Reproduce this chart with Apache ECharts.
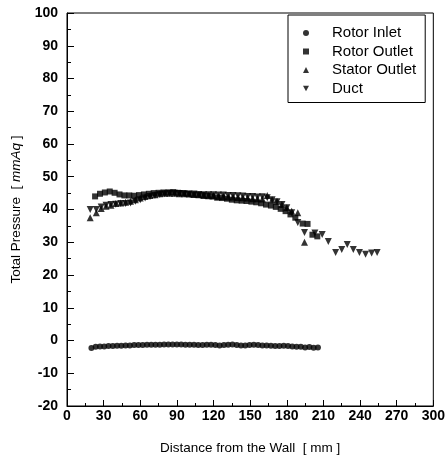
<!DOCTYPE html>
<html><head><meta charset="utf-8">
<script src="https://cdn.jsdelivr.net/npm/echarts@6/dist/echarts.min.js"></script>
<style>html,body{margin:0;padding:0;background:#fff}#c{width:448px;height:464px}</style>
</head><body><div id="c"></div>
<script>
const seriesNames = ['Rotor Inlet', 'Rotor Outlet', 'Stator Outlet', 'Duct'];
const xTicks = [0, 30, 60, 90, 120, 150, 180, 210, 240, 270, 300];
const yTicks = [-20, -10, 0, 10, 20, 30, 40, 50, 60, 70, 80, 90, 100];

const rotorInletX = [20,23.5,27,30.5,34,37.5,41,44.5,48,51.5,55,58.5,62,65.5,69,72.5,76,79.5,83,86.5,90,93.5,97,100.5,104,107.5,111,114.5,118,121.5,125,128.5,132,135.5,139,142.5,146,149.5,153,156.5,160,163.5,167,170.5,174,177.5,181,184.5,188,191.5,195,198.5,202,205.5];
const rotorInletY = [-2.3,-1.9,-1.8,-1.8,-1.7,-1.7,-1.6,-1.6,-1.5,-1.5,-1.4,-1.4,-1.4,-1.3,-1.3,-1.3,-1.3,-1.2,-1.2,-1.2,-1.2,-1.2,-1.3,-1.3,-1.3,-1.4,-1.4,-1.3,-1.3,-1.4,-1.5,-1.4,-1.3,-1.2,-1.4,-1.5,-1.5,-1.4,-1.3,-1.4,-1.5,-1.5,-1.6,-1.7,-1.7,-1.6,-1.7,-1.8,-1.9,-1.9,-2.1,-2.0,-2.2,-2.1];

const rotorOutletX = [23,27,31,35,39,43,47,51,55,59,63,67,71,75,79,83,87,91,95,99,103,107,111,115,119,123,127,131,135,139,143,147,151,155,159,163,167,171,175,179,183,187,193,197,201,205];
const rotorOutletY = [44.0,44.8,45.2,45.5,45.1,44.6,44.3,44.3,44.2,44.4,44.6,44.8,45.0,45.1,45.2,45.2,45.3,45.1,45.0,44.8,44.6,44.5,44.4,44.2,44.0,43.6,43.5,43.3,43.0,42.8,42.7,42.6,42.4,42.2,41.9,41.5,41.2,40.8,40.2,39.5,38.5,37.5,35.7,35.6,32.3,31.8];

const statorOutletX = [19,24,28,32,36,40,44,48,52,56,60,64,68,72,76,80,84,88,92,96,100,104,108,112,116,120,124,128,132,136,140,144,148,152,156,160,164,168,172,176,180,184,189,194.5];
const statorOutletY = [37.5,39.0,40.3,41.0,41.3,41.8,42.0,42.2,42.5,43.0,43.5,44.0,44.3,44.5,44.8,45.0,45.0,45.0,44.8,44.8,44.7,44.6,44.5,44.3,44.2,44.2,44.0,44.0,43.8,43.8,43.7,43.6,43.5,43.3,43.3,43.2,44.3,43.0,42.5,41.5,40.5,39.5,39.0,30.0];

const ductX = [19,24,28,32,36,40,44,48,52,56,60,64,68,72,76,80,84,88,92,96,100,104,108,112,116,120,124,128,132,136,140,144,148,152,156,160,164,168,172,176,180,184,189,194.5,203,209,214,220,225,229.5,234.5,239.5,244.5,249.5,254];
const ductY = [40.0,40.0,40.8,41.3,41.5,41.6,41.8,41.8,42.0,42.5,43.0,43.5,44.0,44.3,44.6,44.8,45.0,45.0,44.9,44.8,44.7,44.7,44.6,44.5,44.5,44.5,44.4,44.4,44.3,44.3,44.2,44.1,44.0,44.0,43.8,43.9,43.6,43.0,42.4,41.5,40.5,39.0,36.0,33.0,32.8,32.4,30.2,26.9,27.8,29.3,27.8,26.9,26.3,26.7,26.9];

const pair = (xs, ys) => xs.map((x, i) => [x, ys[i]]);
const FONT = '"Liberation Sans", Arial, Helvetica, sans-serif';
const black = '#000';
const ductSymbol = 'path://M0,0L10,0L5,9Z';

const chart = echarts.init(document.getElementById('c'), null, {renderer: 'canvas'});
chart.setOption({
  animation: false,
  backgroundColor: '#fff',
  grid: {left: 67, right: 14, top: 13, bottom: 58, show: true, borderColor: black, borderWidth: 1},
  xAxis: {
    type: 'value', min: xTicks[0], max: xTicks[xTicks.length - 1], interval: 30,
    axisLine: {onZero: false, lineStyle: {color: black, width: 1}},
    axisTick: {inside: true, length: 6, lineStyle: {color: black}},
    minorTick: {show: true, splitNumber: 2, length: 3, lineStyle: {color: black}},
    splitLine: {show: false},
    axisLabel: {color: black, fontSize: 14, fontWeight: 'bold', fontFamily: FONT, margin: 3},
    name: 'Distance from the Wall  [ mm ]', nameLocation: 'middle', nameGap: 35,
    nameTextStyle: {color: black, fontSize: 13.5, fontFamily: FONT}
  },
  yAxis: {
    type: 'value', min: yTicks[0], max: yTicks[yTicks.length - 1], interval: 10,
    axisLine: {show: true, onZero: false, lineStyle: {color: black, width: 1}},
    axisTick: {show: true, inside: true, length: 7, lineStyle: {color: black}},
    minorTick: {show: true, splitNumber: 2, length: 4, lineStyle: {color: black}},
    splitLine: {show: false},
    axisLabel: {color: black, fontSize: 14, fontWeight: 'bold', fontFamily: FONT, margin: 9},
    name: 'Total Pressure  [ {i|mmAq} ]', nameLocation: 'middle', nameGap: 42,
    nameTextStyle: {color: black, fontSize: 13.5, fontFamily: FONT,
      rich: {i: {fontStyle: 'italic', fontSize: 13.5, fontFamily: FONT, color: black}}}
  },
  legend: {
    orient: 'vertical', left: 288, top: 15,
    padding: [9, 9, 5, 15], itemGap: 0.5, itemWidth: 6, itemHeight: 6,
    borderColor: black, borderWidth: 1, backgroundColor: '#fff',
    textStyle: {fontSize: 15, fontFamily: FONT, color: black, padding: [0, 0, 0, 18], lineHeight: 18},
    data: [
      {name: seriesNames[0], icon: 'circle'},
      {name: seriesNames[1], icon: 'rect'},
      {name: seriesNames[2], icon: 'triangle'},
      {name: seriesNames[3], icon: ductSymbol}
    ]
  },
  series: [
    {name: seriesNames[0], type: 'scatter', symbol: 'circle', symbolSize: 6, itemStyle: {color: black}, data: pair(rotorInletX, rotorInletY)},
    {name: seriesNames[1], type: 'scatter', symbol: 'rect', symbolSize: 6, itemStyle: {color: black}, data: pair(rotorOutletX, rotorOutletY)},
    {name: seriesNames[2], type: 'scatter', symbol: 'triangle', symbolSize: 7, itemStyle: {color: black}, data: pair(statorOutletX, statorOutletY)},
    {name: seriesNames[3], type: 'scatter', symbol: ductSymbol, symbolSize: 7, itemStyle: {color: black}, data: pair(ductX, ductY)}
  ]
});
</script></body></html>
